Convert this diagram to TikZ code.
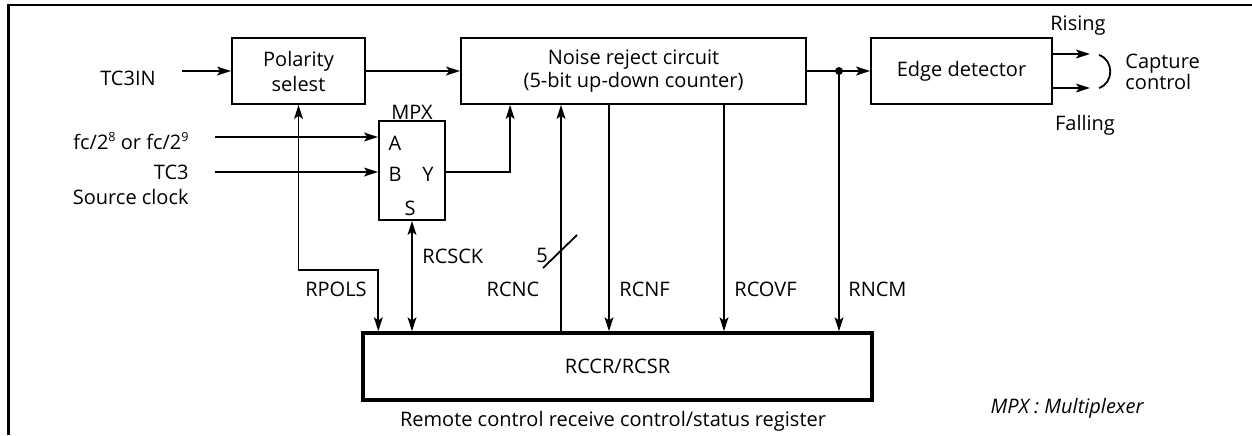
\documentclass[tikz,border=0pt]{standalone}
\usepackage{fontspec}
\setmainfont{Open Sans}
\usetikzlibrary{arrows.meta,positioning,calc}
\newcommand{\pw}[1]{\raisebox{0.8ex}{\fontsize{6.3}{7}\selectfont #1}}
\tikzset{
  block/.style={draw, line width=0.9pt, align=center, inner sep=2pt, minimum height=33pt},
  register/.style={draw, line width=1.7pt, align=center, inner sep=2pt},
  wire/.style={line width=0.9pt},
  arrow/.style={-{Stealth[length=7pt, width=4.4pt, inset=1.6pt]}, wire},
  dblarrow/.style={{Stealth[length=7pt, width=4.4pt, inset=1.6pt]}-{Stealth[length=7pt, width=4.4pt, inset=1.6pt]}, wire},
  sig/.style={inner sep=1pt},
  pin/.style={inner sep=0pt}
}

\begin{document}
\begin{tikzpicture}[x=0.5pt, y=-0.5pt, font=\fontsize{10}{12}\selectfont]
  \useasboundingbox (0,0) rectangle (1252,435);
  \draw[line width=1.2pt] (8.5,435) -- (8.5,5) -- (1252,5);

  % blocks
  \node[block, minimum width=66.5pt, font=\fontsize{10}{12.5}\selectfont] (pol) at (298.5,71) {Polarity\\selest};
  \node[block, minimum width=172.5pt, font=\fontsize{10}{11.8}\selectfont] (noise) at (633.5,71) {Noise reject circuit\\(5-bit up-down counter)};
  \node[block, minimum width=90.5pt] (edge) at (961.5,71) {Edge detector};
  \node[block, minimum width=33pt, minimum height=49.5pt] (mpx) at (412,170.5) {};
  \node[above=-1pt of mpx, inner sep=1pt] (mpxlbl) {MPX};
  \node[pin] (mpxa) at (395,143) {A};
  \node[pin] (mpxb) at (395,174) {B};
  \node[pin] (mpxy) at (428,174) {Y};
  \node[pin] (mpxs) at (410,208) {S};
  \node[register, minimum width=254.5pt, minimum height=33.5pt] (rccr) at (617.5,366.5) {RCCR/RCSR};
  \node (caption) at (613,421) {Remote control receive control/status register};
  \node (legend) at (1067,408) {\itshape MPX : Multiplexer};

  % inputs
  \node[sig] (tc3in) at (128,78) {TC3IN};
  \node[sig, anchor=east] (fc) at (191,141) {fc/2\pw{8} or fc/2\pw{9}};
  \node[sig, anchor=east, align=right, font=\fontsize{10}{12.5}\selectfont] (src) at (191,185) {TC3\\Source clock};
  \coordinate (tcin) at (182,71);
  \coordinate (fcin) at (215,137);
  \coordinate (srcin) at (215,172);
  \draw[arrow] (tcin) -- (pol.west);
  \draw[arrow] (fcin) -- (fcin -| mpx.west);
  \draw[arrow] (srcin) -- (srcin -| mpx.west);

  % data path
  \draw[arrow] (pol) -- (noise);
  \draw[arrow] (mpx.east |- srcin) -| ([xshift=25pt]noise.south west);
  \draw[arrow] (noise) -- (edge);

  % register bits
  \draw[dblarrow] (pol.south) -- ++(0,165) -| ([xshift=8.5pt]rccr.north west);
  \node[sig] (rpols) at (336,289) {RPOLS};
  \draw[dblarrow] (mpx.south) -- (mpx.south |- rccr.north);
  \node[sig, anchor=west] (rcsck) at (420,256) {RCSCK};

  \coordinate (rcnc) at (561,0);
  \draw[arrow] (rccr.north -| rcnc) -- (noise.south -| rcnc);
  \draw[wire] (543,268) -- (577,235);
  \node[sig] (width) at (542,255) {5};
  \node[sig] (rcnclbl) at (513,289) {RCNC};

  \foreach \name/\xx/\lbl in {rcnf/609/RCNF, rcovf/724/RCOVF} {
    \coordinate (\name) at (\xx,0);
    \draw[arrow] (noise.south -| \name) -- (rccr.north -| \name);
    \node[sig, anchor=west] (\name lbl) at ([xshift=4pt]\name |- 0,289) {\lbl};
  }

  \coordinate (tap) at (839,71);
  \fill (tap) circle (2pt);
  \draw[arrow] (tap) -- (rccr.north -| tap);
  \node[sig, anchor=west] (rncmlbl) at ([xshift=3.5pt]tap |- 0,289) {RNCM};

  % edge outputs
  \coordinate (rise) at (1090,54);
  \coordinate (fall) at (1090,88);
  \draw[arrow] (edge.east |- rise) -- (rise);
  \draw[arrow] (edge.east |- fall) -- (fall);
  \node[sig] (risinglbl) at (1078,26) {Rising};
  \node[sig] (fallinglbl) at (1085,125) {Falling};
  \draw[wire] (1099,55) .. controls (1114,60) and (1114,83) .. (1099,88);
  \node[sig, anchor=west, align=left, font=\fontsize{10}{10.5}\selectfont] (capture) at (1123,72) {Capture\\control};
\end{tikzpicture}
\end{document}
